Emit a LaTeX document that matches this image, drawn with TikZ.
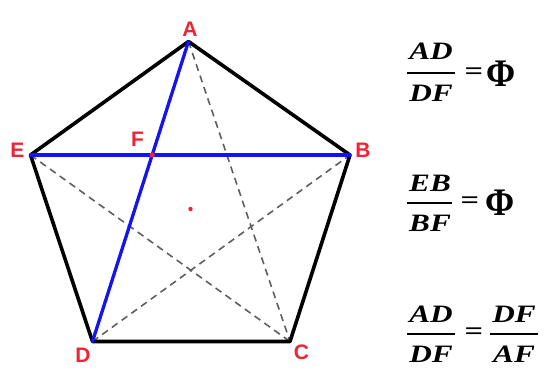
\documentclass[tikz,border=0pt]{standalone}
\usepackage{fontspec}
\setmainfont{Liberation Serif}
\newfontfamily\lblfont{Liberation Sans}
\definecolor{lblred}{RGB}{238,36,52}
\definecolor{lineblue}{RGB}{20,20,240}
\definecolor{dashgray}{RGB}{95,95,95}
\begin{document}
\begin{tikzpicture}[x=1pt,y=-1pt,
  edge/.style={line width=3.6pt,black,line cap=round,line join=round},
  blueline/.style={line width=3.3pt,lineblue,line cap=round},
  diag/.style={line width=1.6pt,dashgray,dash pattern=on 7pt off 5pt},
  lbl/.style={font=\lblfont\fontsize{21}{23}\selectfont\bfseries,text=lblred,inner sep=0pt},
  ftxt/.style={font=\fontsize{25}{27}\selectfont\bfseries\itshape,inner sep=0pt},
  eqs/.style={font=\fontsize{25}{27}\selectfont\bfseries,inner sep=0pt},
  phi/.style={font=\fontsize{39}{41}\selectfont\bfseries,inner sep=0pt},
  fbar/.style={line width=2pt,black}]
\useasboundingbox (0,0) rectangle (550,374);
% vertices
\coordinate (A) at (188.5,41.5);
\coordinate (B) at (350,155);
\coordinate (C) at (290,341.5);
\coordinate (D) at (92.5,341.5);
\coordinate (E) at (30.5,155);
\coordinate (F) at (intersection of A--D and E--B);
\coordinate (O) at (190.5,209);
% dashed diagonals
\draw[diag] (A) -- (C);
\draw[diag] (E) -- (C);
\draw[diag] (D) -- (B);
% pentagon
\draw[edge] (A) -- (B) -- (C) -- (D) -- (E) -- cycle;
% blue lines
\draw[blueline] (A) -- (D);
\draw[blueline] (E) -- (B);
% points
\fill[lblred] (F) circle (2.6pt);
\fill[lblred] (O) circle (2.2pt);
% labels
\node[lbl] (lA) at (190,29.5) {A};
\node[lbl] (lB) at (363,150.5) {B};
\node[lbl] (lC) at (301.5,352) {C};
\node[lbl] (lD) at (83,355) {D};
\node[lbl] (lE) at (17.5,150.5) {E};
\node[lbl] (lF) at (137.5,139.5) {F};
% formula 1
\node[ftxt] (n1) at (431,51) {\scalebox{1.25}[1]{AD}};
\node[ftxt] (d1) at (431,93) {\scalebox{1.25}[1]{DF}};
\draw[fbar] (407,73.5) -- (455,73.5);
\node[eqs] (e1) at (474,73.5) {\scalebox{1.3}[1]{=}};
\node[phi] (p1) at (501,74) {\scalebox{0.9}[1]{Φ}};
% formula 2
\node[ftxt] (n2) at (430,183) {\scalebox{1.25}[1]{EB}};
\node[ftxt] (d2) at (430,223) {\scalebox{1.25}[1]{BF}};
\draw[fbar] (407,203) -- (452,203);
\node[eqs] (e2) at (470,203) {\scalebox{1.3}[1]{=}};
\node[phi] (p2) at (500,203) {\scalebox{0.9}[1]{Φ}};
% formula 3
\node[ftxt] (n3) at (431,314) {\scalebox{1.25}[1]{AD}};
\node[ftxt] (d3) at (431,354) {\scalebox{1.25}[1]{DF}};
\draw[fbar] (407,334) -- (455,334);
\node[eqs] (e3) at (474,334) {\scalebox{1.3}[1]{=}};
\node[ftxt] (n4) at (514,314) {\scalebox{1.25}[1]{DF}};
\node[ftxt] (d4) at (514,354) {\scalebox{1.25}[1]{AF}};
\draw[fbar] (490,334) -- (538,334);
\end{tikzpicture}
\end{document}
